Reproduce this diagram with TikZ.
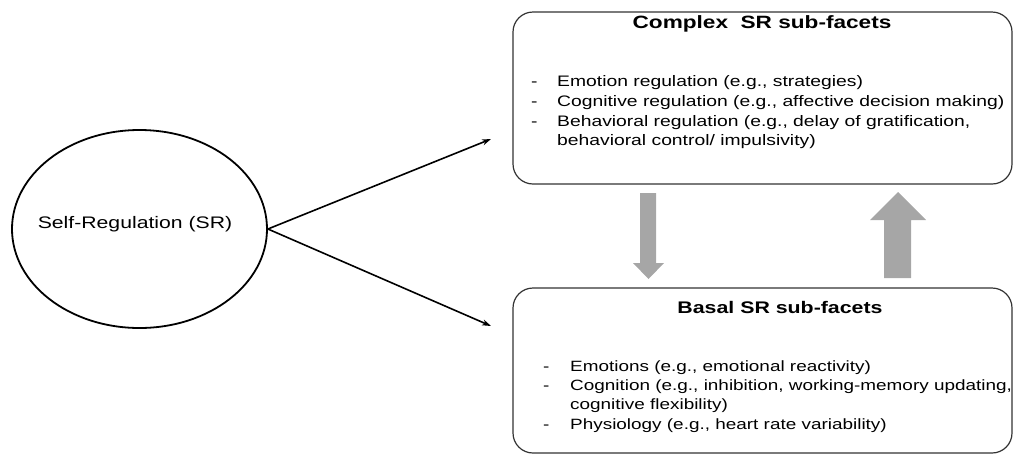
\documentclass[tikz,border=0pt]{standalone}
\usepackage{fontspec}
\setmainfont{Liberation Sans}[FakeStretch=1.27]
\usetikzlibrary{arrows.meta,shapes.geometric}
\begin{document}
\begin{tikzpicture}[x=1pt,y=-1pt,
  ell/.style={draw=black,line width=1.8pt,ellipse,minimum width=255pt,minimum height=198pt,inner sep=0pt},
  rbox/.style={draw=black!80,line width=1.2pt,rounded corners=20pt},
  ttl/.style={anchor=base,inner sep=0pt,font=\fontsize{17.8}{20}\selectfont\bfseries},
  ttlb/.style={ttl,font=\fontsize{16.8}{20}\selectfont\bfseries},
  item/.style={anchor=base west,inner sep=0pt,font=\fontsize{15.2}{18}\selectfont},
  itemb/.style={item,font=\fontsize{14.9}{18}\selectfont},
  conn/.style={line width=1.6pt,-{Stealth[length=9pt,width=6pt]}},
  garrow/.style={fill=black!35,draw=none}]
\useasboundingbox (0,0) rectangle (1014,456);
\node[ell] (sr) at (139.5,229) {};
\node[anchor=base,inner sep=0pt,font=\fontsize{16.7}{18}\selectfont] (srt) at (135,228) {Self-Regulation (SR)};
% boxes
\draw[rbox] (513,12) rectangle (1012,184);
\draw[rbox] (513,288) rectangle (1012,453);
% titles
\node[ttl] (t1) at (762,28) {Complex\ \ SR sub-facets};
\node[ttlb] (t2) at (780,313) {Basal SR sub-facets};
% top items
\foreach \y/\n in {86/d1,106/d2,126/d3} \node[item] (\n) at (531,\y) {-};
\node[item] (i1) at (557,86) {Emotion regulation (e.g., strategies)};
\node[item] (i2) at (557,106) {Cognitive regulation (e.g., affective decision making)};
\node[item] (i3) at (557,126) {Behavioral regulation (e.g., delay of gratification,};
\node[item] (i4) at (557,145.5) {behavioral control/ impulsivity)};
% bottom items
\foreach \y/\n in {371/e1,390.5/e2,429/e3} \node[itemb] (\n) at (543,\y) {-};
\node[itemb] (j1) at (570,371) {Emotions (e.g., emotional reactivity)};
\node[itemb] (j2) at (570,390.5) {Cognition (e.g., inhibition, working-memory updating,};
\node[itemb] (j3) at (570,409.5) {cognitive flexibility)};
\node[itemb] (j4) at (570,429) {Physiology (e.g., heart rate variability)};
% connectors
\coordinate (c1) at (491,139);
\coordinate (c2) at (491,326);
\draw[conn] (sr.east) -- (c1);
\draw[conn] (sr.east) -- (c2);
% gray arrows
\fill[garrow] (640,193) -- (656,193) -- (656,263) -- (664,263) -- (648.5,279) -- (633,263) -- (640,263) -- cycle;
\fill[garrow] (884,278) -- (911,278) -- (911,220) -- (926,220) -- (898,192) -- (870,220) -- (884,220) -- cycle;
\end{tikzpicture}
\end{document}
